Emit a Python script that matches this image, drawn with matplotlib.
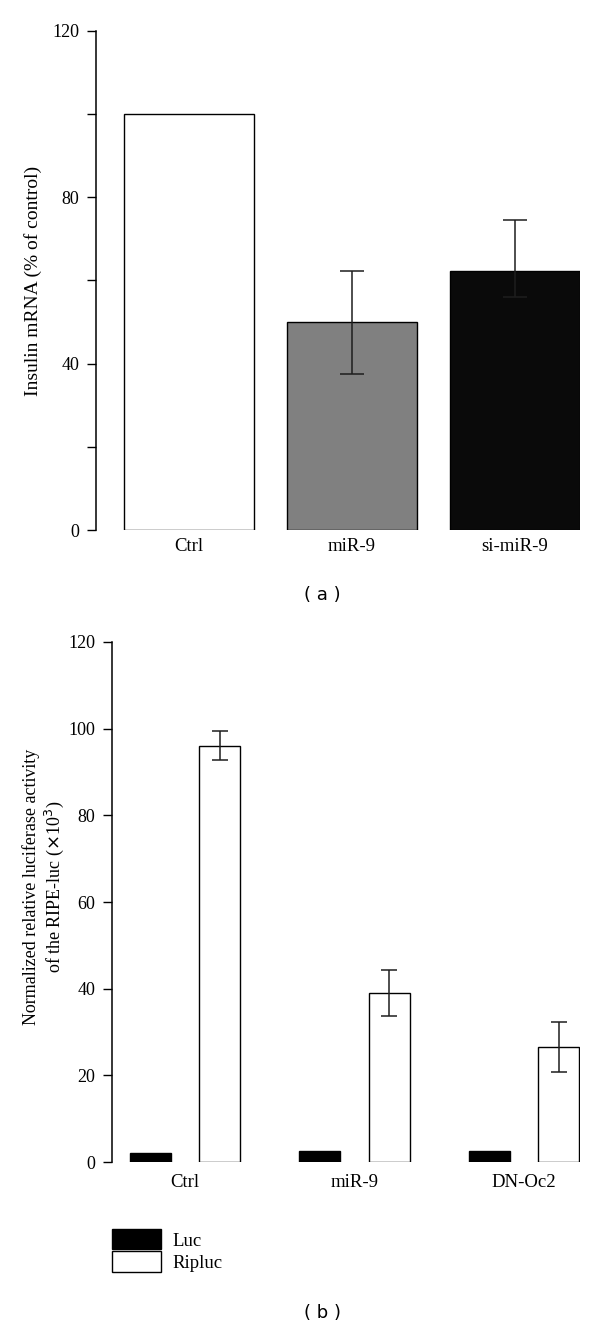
"""
Insulin mRNA and RIPE-luc luciferase activity, two stacked bar panels.
"""

import matplotlib

matplotlib.use("Agg")
import matplotlib.pyplot as plt
import numpy as np
from matplotlib.patches import Patch

# Panel (a)
grupos_a = ["Ctrl", "miR-9", "si-miR-9"]
insulina = [100, 50, 62.3]
erro_a_baixo = [0, 12.4, 6.3]
erro_a_cima = [0, 12.4, 12.2]
cores_a = ["#ffffff", "#808080", "#0a0a0a"]
ticks_a = [0, 20, 40, 60, 80, 100, 120]
rotulos_a = ["0", "", "40", "", "80", "", "120"]

# Panel (b)
grupos_b = ["Ctrl", "miR-9", "DN-Oc2"]
luc = [2.0, 2.5, 2.5]
ripluc = [96.1, 39.0, 26.5]
erro_ripluc = [3.4, 5.4, 5.8]
ticks_b = [0, 20, 40, 60, 80, 100, 120]

SERIF = ["Liberation Serif", "DejaVu Serif"]
FS_TICK = 13
FS_X = 13.5


def estilo_eixo(ax, ticks, rotulos, pad_x):
    for lado in ("top", "right", "bottom"):
        ax.spines[lado].set_visible(False)
    ax.spines["left"].set_linewidth(1.1)
    ax.set_ylim(0, 120)
    ax.set_yticks(ticks)
    ax.set_yticklabels(rotulos, fontfamily=SERIF, fontsize=FS_TICK)
    ax.tick_params(axis="y", direction="out", length=6.5, width=1.0, pad=5.5)
    ax.tick_params(axis="x", length=0, pad=pad_x)
    for t in ax.get_xticklabels():
        t.set_fontfamily(SERIF)
        t.set_fontsize(FS_X)


def painel_a(fig):
    ax = fig.add_axes([0.16, 0.6015, 0.807, 0.3752])
    x = np.arange(len(grupos_a))
    ax.bar(x, insulina, width=0.8, color=cores_a, edgecolor="black", linewidth=1.0)
    ax.errorbar(
        x[1:],
        insulina[1:],
        yerr=[erro_a_baixo[1:], erro_a_cima[1:]],
        fmt="none",
        ecolor="#1e1e1e",
        elinewidth=1.1,
        capsize=8.4,
        capthick=1.1,
    )
    ax.set_xlim(-0.571, 2.40)
    ax.set_xticks(x)
    ax.set_xticklabels(grupos_a)
    estilo_eixo(ax, ticks_a, rotulos_a, pad_x=6)
    ax.set_ylabel("Insulin mRNA (% of control)", fontfamily=SERIF, fontsize=14)
    ax.yaxis.set_label_coords(-0.112, 0.5)
    fig.text(0.537, 1 - 595 / 1330, "( a )", ha="center", va="center",
             fontfamily="DejaVu Sans", fontsize=13)


def painel_b(fig):
    ax = fig.add_axes([0.1867, 0.1263, 0.78, 0.391])
    x = np.arange(len(grupos_b))
    desloc = 0.205
    largura = 0.24
    ax.bar(x - desloc, luc, width=largura, color="black", edgecolor="black", linewidth=1.0)
    ax.bar(x + desloc, ripluc, width=largura, color="white", edgecolor="black", linewidth=1.0)
    ax.errorbar(
        x + desloc,
        ripluc,
        yerr=erro_ripluc,
        fmt="none",
        ecolor="#1e1e1e",
        elinewidth=1.1,
        capsize=5.7,
        capthick=1.1,
    )
    ax.set_xlim(-0.43, 2.33)
    ax.set_xticks(x)
    ax.set_xticklabels(grupos_b)
    estilo_eixo(ax, ticks_b, [str(t) for t in ticks_b], pad_x=8.5)
    ax.set_ylabel(
        "Normalized relative luciferase activity\nof the RIPE-luc ($\\times$10$^3$)",
        fontfamily=SERIF,
        fontsize=13,
        linespacing=1.15,
    )
    ax.yaxis.set_label_coords(-0.099, 0.53)

    handles = [
        Patch(facecolor="black", edgecolor="black", linewidth=1.0, label="Luc"),
        Patch(facecolor="white", edgecolor="black", linewidth=1.0, label="Ripluc"),
    ]
    fig.legend(
        handles=handles,
        loc="upper left",
        bbox_to_anchor=(112 / 600, 1 - 1229 / 1330),
        frameon=False,
        borderpad=0,
        borderaxespad=0,
        handlelength=2.6,
        handleheight=1.3,
        handletextpad=0.65,
        labelspacing=0.1,
        prop={"family": SERIF, "size": 13.5},
    )
    fig.text(0.538, 1 - 1313 / 1330, "( b )", ha="center", va="center",
             fontfamily="DejaVu Sans", fontsize=13)


def main() -> None:
    fig = plt.figure(figsize=(6, 13.3), dpi=100)
    painel_a(fig)
    painel_b(fig)
    fig.savefig("out.png", dpi=100, facecolor="white")
    plt.close(fig)


if __name__ == "__main__":
    main()
